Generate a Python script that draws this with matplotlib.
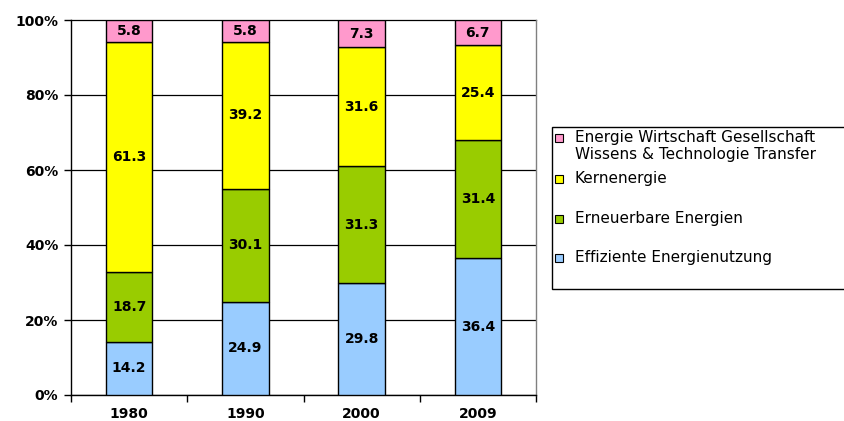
import matplotlib
matplotlib.use("Agg")
import matplotlib.pyplot as plt
from matplotlib.patches import Rectangle
import numpy as np

plt.rcParams['font.family'] = ['DejaVu Sans']

years = ['1980', '1990', '2000', '2009']
effizienz = [14.2, 24.9, 29.8, 36.4]
erneuerbar = [18.7, 30.1, 31.3, 31.4]
kern = [61.3, 39.2, 31.6, 25.4]
wirtschaft = [5.8, 5.8, 7.3, 6.7]

series = [
    ('Effiziente Energienutzung', effizienz, '#99ccff'),
    ('Erneuerbare Energien', erneuerbar, '#99cc00'),
    ('Kernenergie', kern, '#ffff00'),
    ('Energie Wirtschaft Gesellschaft\nWissens & Technologie Transfer', wirtschaft, '#ff99cc'),
]

fig = plt.figure(figsize=(8.45, 4.21), dpi=100)
ax = fig.add_axes([71 / 845, 1 - 395 / 421, 465 / 845, 375 / 421])

x = np.arange(len(years))
totals = np.sum([s[1] for s in series], axis=0)
bottom = np.zeros(len(years))
for name, vals, color in series:
    share = np.array(vals) / totals * 100
    ax.bar(x, share, width=0.4, bottom=bottom, color=color,
           edgecolor='black', linewidth=1.0, zorder=3)
    for xi, b, h, v in zip(x, bottom, share, vals):
        ax.text(xi, b + h / 2, f'{v:.1f}', ha='center', va='center',
                fontsize=10, fontweight='bold', zorder=4)
    bottom += share

ax.set_xlim(-0.5, len(years) - 0.5)
ax.set_ylim(0, 100)
ax.set_yticks(np.arange(0, 101, 20))
ax.set_yticklabels([f'{v}%' for v in range(0, 101, 20)],
                   fontsize=10, fontweight='bold')
ax.set_xticks(x)
ax.set_xticklabels(years, fontsize=10, fontweight='bold')
ax.set_xticks(np.arange(-0.5, len(years)), minor=True)
ax.tick_params(axis='x', which='major', length=0, pad=9)
ax.tick_params(axis='x', which='minor', length=5, direction='out', width=1)
ax.tick_params(axis='y', length=5, direction='out', width=1, pad=4)
ax.yaxis.grid(True, color='black', linewidth=0.9, zorder=0)
ax.yaxis.get_gridlines()[-1].set_clip_on(False)
for sp in ax.spines.values():
    sp.set_color('black')
    sp.set_linewidth(1.0)
ax.spines['right'].set_color('#808080')
ax.spines['top'].set_visible(False)

# legend box drawn by hand, running past the right edge
W, H = 845, 421
fig.patches.append(Rectangle((552 / W, 1 - 289 / H), 320 / W, 162 / H,
                             transform=fig.transFigure, facecolor='white',
                             edgecolor='black', linewidth=1.0))
legend_rows = [
    (series[3], 138),
    (series[2], 179),
    (series[1], 219),
    (series[0], 258),
]
for (name, _, color), yc in legend_rows:
    fig.patches.append(Rectangle((555 / W, 1 - (yc + 4) / H), 8 / W, 8 / H,
                                 transform=fig.transFigure, facecolor=color,
                                 edgecolor='black', linewidth=0.8))
    fig.text(575 / W, 1 - (yc - 8) / H, name, ha='left', va='top',
             fontsize=11, linespacing=1.15)

fig.savefig('out.png', dpi=100)
